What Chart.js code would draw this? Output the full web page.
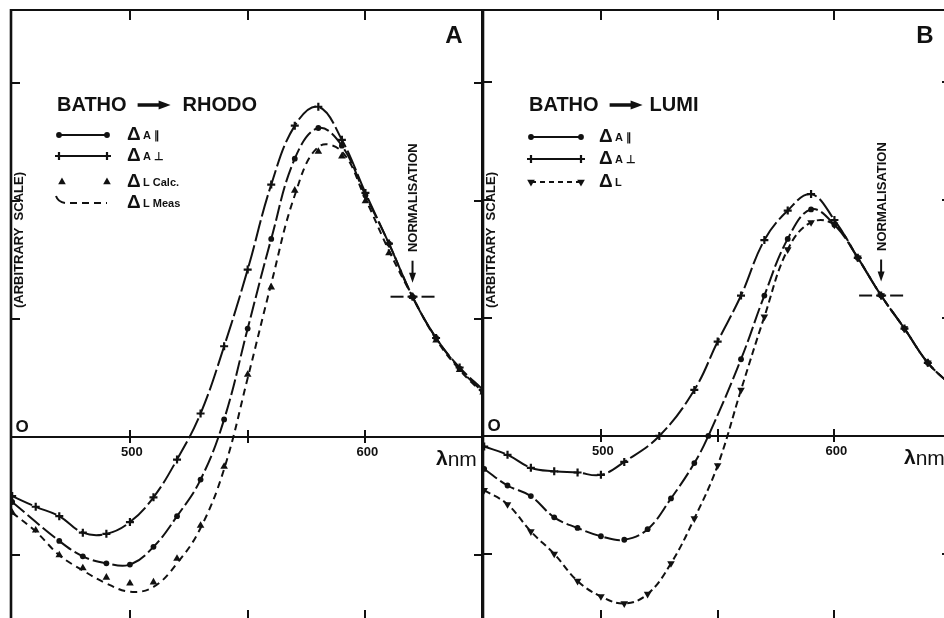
<!DOCTYPE html>
<html>
<head>
<meta charset="utf-8">
<title>Batho difference spectra</title>
<script src="https://cdn.jsdelivr.net/npm/chart.js@4.4.1/dist/chart.umd.min.js"></script>
<style>
  html, body { margin: 0; padding: 0; background: #fff; width: 944px; height: 618px; overflow: hidden; }
  .panel { position: absolute; top: 0; }
  #panelA { left: 0; }
  #panelB { left: 470px; }
</style>
</head>
<body>
<div class="panel" id="panelA"><canvas id="chartA" width="500" height="640"></canvas></div>
<div class="panel" id="panelB"><canvas id="chartB" width="500" height="640"></canvas></div>
<script>
// Axis ticks (nm and arbitrary units, one unit per tick)
const X_TICKS = [500, 550, 600];
const X_LABELS = [500, 600];
const Y_TICKS = [-1, 1, 2, 3];
const NORM_NM = 620;

// Panel A: batho -> rhodo
const nmA = [450, 460, 470, 480, 490, 500, 510, 520, 530, 540, 550, 560, 570, 580, 590, 600, 610, 620, 630, 640, 650];
const rhodoPara = [-0.55, null, -0.88, -1.01, -1.07, -1.08, -0.93, -0.67, -0.36, 0.15, 0.92, 1.68, 2.36, 2.62, 2.47, 2.05, 1.64, 1.19, 0.84, 0.58, 0.38];
const rhodoPerp = [-0.50, -0.59, -0.67, -0.81, -0.82, -0.72, -0.51, -0.19, 0.20, 0.77, 1.42, 2.14, 2.64, 2.80, 2.52, 2.07, 1.64, 1.19, 0.84, 0.59, 0.40];
const rhodoCalc = [-0.64, -0.79, -1.00, -1.11, -1.19, -1.24, -1.23, -1.03, -0.75, -0.25, 0.53, 1.27, 2.09, 2.42, 2.38, 2.00, 1.56, 1.19, 0.82, 0.57, 0.38];
const rhodoMeas = [-0.64, -0.80, -1.00, -1.13, -1.24, -1.31, -1.27, -1.07, -0.77, -0.27, 0.50, 1.30, 2.05, 2.46, 2.42, 2.02, 1.58, 1.19, 0.83, 0.57, 0.37];

// Panel B: batho -> lumi
const nmBPara = [450, 460, 470, 480, 490, 500, 510, 520, 530, 540, 546, 560, 570, 580, 590, 600, 610, 620, 630, 640, 650];
const lumiPara = [-0.28, -0.42, -0.51, -0.69, -0.78, -0.85, -0.88, -0.79, -0.53, -0.23, 0.00, 0.65, 1.19, 1.67, 1.92, 1.79, 1.51, 1.19, 0.91, 0.62, 0.43];
const nmBPerp = [450, 460, 470, 480, 490, 500, 510, 525, 540, 550, 560, 570, 580, 590, 600, 610, 620, 630, 640, 650];
const lumiPerp = [-0.09, -0.16, -0.27, -0.30, -0.31, -0.33, -0.22, 0.00, 0.39, 0.80, 1.19, 1.66, 1.91, 2.05, 1.83, 1.51, 1.19, 0.91, 0.62, 0.43];
const nmBL = [450, 460, 470, 480, 490, 500, 510, 520, 530, 540, 550, 560, 570, 580, 590, 600, 610, 620, 630, 640, 650];
const lumiL = [-0.46, -0.58, -0.81, -1.00, -1.23, -1.36, -1.42, -1.34, -1.08, -0.70, -0.25, 0.39, 1.01, 1.58, 1.81, 1.79, 1.51, 1.19, 0.91, 0.62, 0.43];

const INK = '#111';
const FONT = "'Liberation Sans', Arial, sans-serif";

// marker looks shared by the plot and the hand drawn legend
const MARK = {
    dot: { pointStyle: 'circle', radius: 2.9, rotation: 0, borderWidth: 0 },
    cross: { pointStyle: 'cross', radius: 4, rotation: 0, borderWidth: 2.2 },
    tri: { pointStyle: 'triangle', radius: 4.4, rotation: 0, borderWidth: 0 },
    triDown: { pointStyle: 'triangle', radius: 4.4, rotation: 180, borderWidth: 0 },
    none: { pointStyle: 'circle', radius: 0, rotation: 0, borderWidth: 0 }
};

function series(nm, values, mark, dash, showLine) {
    const m = MARK[mark];
    return {
        data: nm.map((x, i) => ({ x: x, y: values[i] })),
        borderColor: INK,
        backgroundColor: INK,
        borderWidth: 2,
        borderDash: dash,
        showLine: showLine !== false,
        spanGaps: true,
        tension: 0.4,
        pointStyle: m.pointStyle,
        pointRadius: m.radius,
        pointRotation: m.rotation,
        pointBorderWidth: m.borderWidth,
        pointBackgroundColor: INK,
        pointBorderColor: INK
    };
}

function drawMark(ctx, mark, px, py) {
    const m = MARK[mark];
    if (!m.radius) return;
    ctx.save();
    ctx.setLineDash([]);
    ctx.fillStyle = INK;
    ctx.strokeStyle = INK;
    ctx.lineWidth = m.borderWidth;
    Chart.helpers.drawPoint(ctx, m, px, py);
    ctx.restore();
}

function line(ctx, x1, y1, x2, y2) {
    ctx.beginPath();
    ctx.moveTo(x1, y1);
    ctx.lineTo(x2, y2);
    ctx.stroke();
}

// frame, zero axis and inward tick marks
function drawFrame(chart) {
    const { ctx, chartArea: a, scales: { x, y } } = chart;
    const y0 = Math.round(y.getPixelForValue(0));
    ctx.save();
    ctx.strokeStyle = INK;
    ctx.lineWidth = 2;
    ctx.beginPath();
    ctx.moveTo(a.left, a.top); ctx.lineTo(a.right, a.top);
    ctx.moveTo(a.right, a.top); ctx.lineTo(a.right, a.bottom);
    ctx.moveTo(a.left, a.bottom); ctx.lineTo(a.right, a.bottom);
    ctx.moveTo(a.left, y0); ctx.lineTo(a.right, y0);
    ctx.stroke();
    ctx.lineWidth = 2.6;
    line(ctx, a.left, a.top - 1, a.left, a.bottom);

    ctx.lineWidth = 2;
    ctx.beginPath();
    X_TICKS.forEach(v => {
        const px = Math.round(x.getPixelForValue(v));
        ctx.moveTo(px, a.top); ctx.lineTo(px, a.top + 10);
        ctx.moveTo(px, a.bottom); ctx.lineTo(px, a.bottom - 10);
        ctx.moveTo(px, y0 - 7); ctx.lineTo(px, y0 + 6);
    });
    Y_TICKS.forEach(v => {
        const py = Math.round(y.getPixelForValue(v));
        ctx.moveTo(a.left, py); ctx.lineTo(a.left + 9, py);
        ctx.moveTo(a.right, py); ctx.lineTo(a.right - 8, py);
    });
    ctx.stroke();
    ctx.restore();
}

function drawArrowRight(ctx, x1, x2, yy) {
    ctx.lineWidth = 3.5;
    line(ctx, x1, yy, x2 - 9, yy);
    ctx.beginPath();
    ctx.moveTo(x2 - 12, yy - 4.5);
    ctx.lineTo(x2, yy);
    ctx.lineTo(x2 - 12, yy + 4.5);
    ctx.closePath();
    ctx.fill();
}

function drawLegend(ctx, a, cfg) {
    const lx = a.left + 46;
    const ty = a.top + 95;
    ctx.textAlign = 'left';
    ctx.textBaseline = 'middle';
    ctx.font = `bold 20px ${FONT}`;
    ctx.fillText(cfg.title[0], lx, ty);
    const ax = lx + ctx.measureText(cfg.title[0]).width + 11;
    drawArrowRight(ctx, ax, ax + 33, ty);
    ctx.fillText(cfg.title[1], ax + 33 + cfg.titleGap, ty);

    const x0 = lx, x1 = lx + cfg.sampleWidth;
    cfg.rows.forEach((row, i) => {
        const ry = a.top + cfg.rowY[i];
        ctx.lineWidth = 2;
        ctx.setLineDash(row.dash || []);
        if (row.kind === 'line') {
            line(ctx, x0 + 2, ry, x1, ry);
            drawMark(ctx, row.mark, x0 + 2, ry);
            drawMark(ctx, row.mark, x1, ry);
        } else if (row.kind === 'marks') {
            drawMark(ctx, row.mark, x0 + 5, ry);
            drawMark(ctx, row.mark, x1, ry);
        } else if (row.kind === 'hook') {
            ctx.setLineDash([]);
            ctx.beginPath();
            ctx.moveTo(x0 - 1, ry - 7);
            ctx.quadraticCurveTo(x0 + 1, ry - 1, x0 + 8, ry);
            ctx.stroke();
            ctx.setLineDash(row.dash);
            line(ctx, x0 + 13, ry, x1, ry);
        }
        ctx.setLineDash([]);
        const tx = x1 + cfg.textGap;
        ctx.font = `bold 19px ${FONT}`;
        ctx.fillText('Δ', tx, ry);
        ctx.font = `bold 11px ${FONT}`;
        ctx.fillText(row.text, tx + 16, ry + 1);
    });
}

// text, legend and normalisation marker drawn over the curves
function drawLabels(chart, cfg) {
    const { ctx, chartArea: a, scales: { x, y } } = chart;
    const y0 = y.getPixelForValue(0);
    ctx.save();
    ctx.beginPath();
    ctx.rect(a.left - 12, 0, a.right - a.left + 12, chart.height);
    ctx.clip();
    ctx.fillStyle = INK;
    ctx.strokeStyle = INK;
    ctx.textAlign = 'center';
    ctx.textBaseline = 'middle';

    ctx.font = `bold 17px ${FONT}`;
    ctx.fillText('O', a.left + 11, y0 - 10);
    ctx.font = `bold 13px ${FONT}`;
    X_LABELS.forEach(v => ctx.fillText(String(v), x.getPixelForValue(v) + 2, y0 + 15));

    ctx.textAlign = 'left';
    ctx.font = `bold 21px ${FONT}`;
    const ux = a.right - 46;
    ctx.fillText('λ', ux, y0 + 22);
    const lw = ctx.measureText('λ').width;
    ctx.font = `21px ${FONT}`;
    ctx.fillText('nm', ux + lw, y0 + 23);

    ctx.textAlign = 'center';
    ctx.font = `bold 24px ${FONT}`;
    ctx.fillText(cfg.letter, a.right + cfg.letterDx, a.top + 26);

    // vertical axis caption
    ctx.save();
    ctx.translate(a.left + 8, a.top + 230);
    ctx.rotate(-Math.PI / 2);
    ctx.font = `bold 13px ${FONT}`;
    ctx.fillText('(ARBITRARY  SCALE)', 0, 0);
    ctx.restore();

    drawLegend(ctx, a, cfg);

    // normalisation point: cross hair, arrow and caption
    const nx = x.getPixelForValue(NORM_NM);
    const ny = y.getPixelForValue(cfg.normValue);
    ctx.lineWidth = 2;
    [[-22, -9], [-5, 5], [9, 22]].forEach(s => line(ctx, nx + s[0], ny, nx + s[1], ny));
    line(ctx, nx, ny - 36, nx, ny - 22);
    ctx.beginPath();
    ctx.moveTo(nx - 3.5, ny - 24);
    ctx.lineTo(nx + 3.5, ny - 24);
    ctx.lineTo(nx, ny - 14);
    ctx.closePath();
    ctx.fill();
    ctx.save();
    ctx.translate(nx + 1, ny - 99);
    ctx.rotate(-Math.PI / 2);
    ctx.font = `bold 13px ${FONT}`;
    ctx.textAlign = 'center';
    ctx.fillText('NORMALISATION', 0, 0);
    ctx.restore();

    ctx.restore();
}

function makePanel(canvasId, datasets, cfg, pad) {
    return new Chart(document.getElementById(canvasId), {
        type: 'line',
        data: { datasets: datasets },
        options: {
            responsive: false,
            animation: false,
            events: [],
            layout: { padding: pad },
            scales: {
                x: { type: 'linear', min: 449.5, max: 649.5, display: false },
                y: { type: 'linear', min: cfg.yMin, max: cfg.yMax, display: false }
            },
            plugins: { legend: { display: false }, tooltip: { enabled: false } }
        },
        plugins: [{
            id: 'panel' + cfg.letter,
            beforeDatasetsDraw(chart) { drawFrame(chart); },
            afterDatasetsDraw(chart) { drawLabels(chart, cfg); }
        }]
    });
}

const normIndex = nmA.indexOf(NORM_NM);

makePanel('chartA', [
    series(nmA, rhodoMeas, 'none', [7, 5]),
    series(nmA, rhodoCalc, 'tri', [], false),
    series(nmA, rhodoPara, 'dot', [16, 4]),
    series(nmA, rhodoPerp, 'cross', [22, 4])
], {
    letter: 'A', letterDx: -28,
    yMin: -1.55, yMax: 3.62,
    title: ['BATHO', 'RHODO'], titleGap: 12,
    sampleWidth: 50, textGap: 20,
    rowY: [125, 146, 172, 193],
    rows: [
        { kind: 'line', mark: 'dot', text: 'A ∥' },
        { kind: 'line', mark: 'cross', text: 'A ⊥' },
        { kind: 'marks', mark: 'tri', text: 'L Calc.' },
        { kind: 'hook', mark: 'none', dash: [7, 5], text: 'L Meas' }
    ],
    normValue: rhodoPerp[normIndex]
}, { left: 11, top: 10, right: 18, bottom: 20 });

makePanel('chartB', [
    series(nmBL, lumiL, 'triDown', [7, 4]),
    series(nmBPara, lumiPara, 'dot', [16, 4]),
    series(nmBPerp, lumiPerp, 'cross', [22, 4])
], {
    letter: 'B', letterDx: -25,
    yMin: -1.56, yMax: 3.61,
    title: ['BATHO', 'LUMI'], titleGap: 7,
    sampleWidth: 52, textGap: 18,
    rowY: [127, 149, 172],
    rows: [
        { kind: 'line', mark: 'dot', text: 'A ∥' },
        { kind: 'line', mark: 'cross', text: 'A ⊥' },
        { kind: 'line', mark: 'triDown', dash: [5, 4], text: 'L' }
    ],
    normValue: lumiPerp[nmBPerp.indexOf(NORM_NM)]
}, { left: 13, top: 10, right: 20, bottom: 20 });
</script>
</body>
</html>
